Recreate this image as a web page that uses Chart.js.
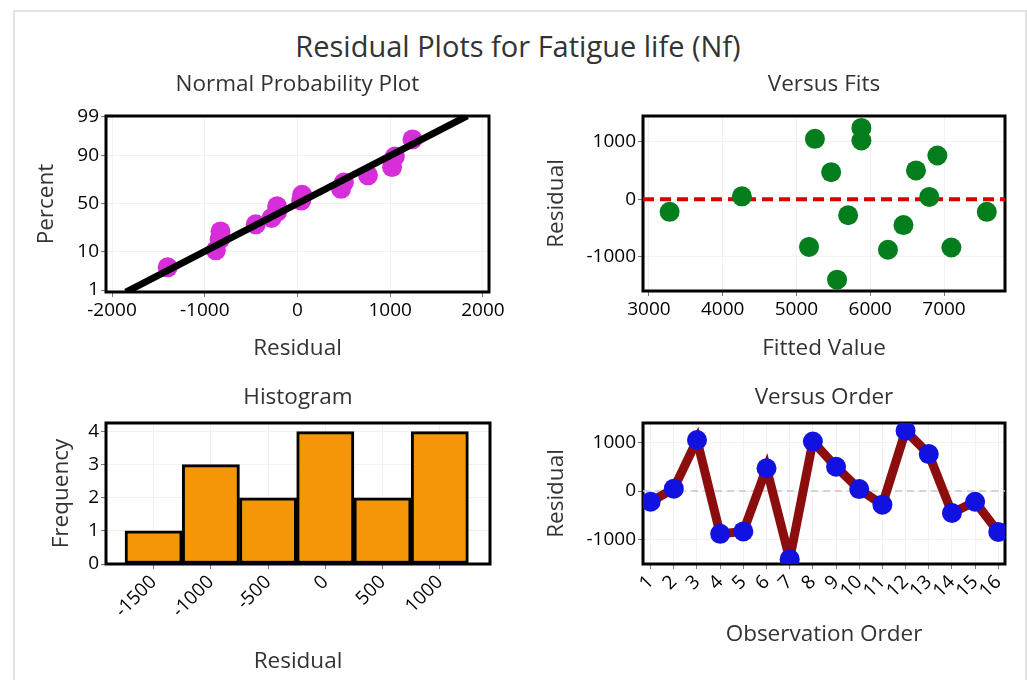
<!DOCTYPE html>
<html>
<head>
<meta charset="utf-8">
<script src="https://cdn.jsdelivr.net/npm/chart.js@4.4.1/dist/chart.umd.min.js"></script>
<style>
  body { margin: 0; background: #fff; width: 1027px; height: 680px; overflow: hidden; position: relative; font-family: "Open Sans", sans-serif; }
  #frame { position: absolute; left: 13px; top: 10px; width: 1010px; height: 700px; border: 2px solid #e3e3e3; border-bottom: none; }
  h1 { position: absolute; left: 0; width: 1036px; top: 26px; margin: 0; text-align: center; font-weight: 400; font-size: 29px; line-height: 40px; color: #333; }
  canvas { position: absolute; }
</style>
</head>
<body>
<div id="frame"></div>
<h1>Residual Plots for Fatigue life (Nf)</h1>
<canvas id="normal"></canvas>
<canvas id="fits"></canvas>
<canvas id="hist"></canvas>
<canvas id="order"></canvas>
<script>
// residuals and fitted values, in observation order
const observations = [1, 2, 3, 4, 5, 6, 7, 8, 9, 10, 11, 12, 13, 14, 15, 16];
const residuals = [-220, 50, 1050, -880, -830, 470, -1400, 1020, 500, 40, -280, 1240, 760, -450, -220, -840];
const fitted = [3280, 4260, 5250, 6240, 5170, 5470, 5550, 5880, 6620, 6800, 5700, 5880, 6910, 6450, 7580, 7100];

// normal probability plot: plotting positions for the sorted residuals, and the reference line
const probPercent = [4.3, 10.4, 16.5, 22.6, 28.7, 34.8, 40.9, 47.0, 53.0, 59.1, 65.2, 71.3, 77.4, 83.5, 89.6, 95.7];
const lineResidual = [-1850, 1830];
const linePercent = [0.87, 99.05];

// histogram bins
const binCenters = [-1500, -1000, -500, 0, 500, 1000];
const binCounts = [1, 3, 2, 4, 2, 4];

// tick labels
const probResidualTicks = [-2000, -1000, 0, 1000, 2000];
const percentTicks = [1, 10, 50, 90, 99];
const fitTicks = [3000, 4000, 5000, 6000, 7000];
const residualTicks = [-1000, 0, 1000];
const freqTicks = [0, 1, 2, 3, 4];

Chart.defaults.font.family = '"Open Sans", sans-serif';
Chart.defaults.color = '#000';

// inverse normal CDF (Acklam)
function probit(p) {
  const a = [-39.69683028665376, 220.9460984245205, -275.9285104469687, 138.3577518672690, -30.66479806614716, 2.506628277459239];
  const b = [-54.47609879822406, 161.5858368580409, -155.6989798598866, 66.80131188771972, -13.28068155288572];
  const c = [-0.007784894002430293, -0.3223964580411365, -2.400758277161838, -2.549732539343734, 4.374664141464968, 2.938163982698783];
  const d = [0.007784695709041462, 0.3224671290700398, 2.445134137142996, 3.754408661907416];
  const lo = 0.02425;
  if (p < lo) {
    const q = Math.sqrt(-2 * Math.log(p));
    return (((((c[0]*q+c[1])*q+c[2])*q+c[3])*q+c[4])*q+c[5]) / ((((d[0]*q+d[1])*q+d[2])*q+d[3])*q+1);
  }
  if (p > 1 - lo) {
    const q = Math.sqrt(-2 * Math.log(1 - p));
    return -(((((c[0]*q+c[1])*q+c[2])*q+c[3])*q+c[4])*q+c[5]) / ((((d[0]*q+d[1])*q+d[2])*q+d[3])*q+1);
  }
  const q = p - 0.5, r = q * q;
  return (((((a[0]*r+a[1])*r+a[2])*r+a[3])*r+a[4])*r+a[5])*q / (((((b[0]*r+b[1])*r+b[2])*r+b[3])*r+b[4])*r+1);
}

function normCdf(z) {
  const t = 1 / (1 + 0.3275911 * Math.abs(z));
  const y = 1 - (((((1.061405429*t - 1.453152027)*t) + 1.421413741)*t - 0.284496736)*t + 0.254829592)*t*Math.exp(-z*z/2);
  return z >= 0 ? (1 + y) / 2 : (1 - y) / 2;
}

// percent axis spaced on the normal quantile
class ProbabilityScale extends Chart.LinearScale {
  getPixelForValue(value) {
    const lo = probit(this.min / 100), hi = probit(this.max / 100);
    return this.getPixelForDecimal((probit(value / 100) - lo) / (hi - lo));
  }
  getValueForPixel(pixel) {
    const lo = probit(this.min / 100), hi = probit(this.max / 100);
    return 100 * normCdf(lo + this.getDecimalForPixel(pixel) * (hi - lo));
  }
}
ProbabilityScale.id = 'probability';
ProbabilityScale.defaults = {};
Chart.register(ProbabilityScale);

// black box around the plot area plus the panel heading
const panelPlugin = {
  id: 'panel',
  beforeDatasetsDraw(chart) {
    const { ctx, chartArea: a } = chart;
    ctx.save();
    ctx.strokeStyle = '#000';
    ctx.lineWidth = 3;
    ctx.strokeRect(a.left, a.top, a.width, a.height);
    ctx.restore();
  },
  afterDraw(chart, args, opts) {
    const { ctx, chartArea: a } = chart;
    ctx.save();
    ctx.fillStyle = '#333';
    ctx.font = '22.5px "Open Sans", sans-serif';
    ctx.textAlign = 'center';
    ctx.textBaseline = 'middle';
    ctx.fillText(opts.text, (a.left + a.right) / 2, opts.y);
    ctx.restore();
  }
};

const tickFont = { size: 19 };
const titleFont = { size: 22.5 };

function axis(values, extra) {
  return Object.assign({
    border: { display: false },
    grid: { color: '#f1f1f1', tickColor: '#777', tickLength: 5 },
    afterBuildTicks: s => { s.ticks = values.map(v => ({ value: v })); },
    ticks: { font: tickFont, padding: 2, callback: v => v }
  }, extra);
}

function rotatedTicks() {
  return { font: tickFont, padding: 2, minRotation: 45, maxRotation: 45, autoSkip: false, callback: v => v };
}

function xTitle(text) {
  return { display: true, text, color: '#333', font: titleFont, padding: { top: 0, bottom: 4 } };
}
function yTitle(text) {
  return { display: true, text, color: '#333', font: titleFont, padding: { top: 0, bottom: 6 } };
}

// canvas box and plot area in page pixels
function panel(id, box, area, heading, headingY, type, datasets, scales) {
  const el = document.getElementById(id);
  el.width = box.w; el.height = box.h;
  el.style.left = box.l + 'px'; el.style.top = box.t + 'px';
  const yW = area.l - box.l;
  const xH = box.t + box.h - area.b;
  scales.x.afterFit = s => { s.height = xH; };
  scales.y.afterFit = s => { s.width = yW; };
  return new Chart(el, {
    type,
    data: { datasets },
    options: {
      responsive: false,
      animation: false,
      devicePixelRatio: 1,
      layout: { padding: { left: 0, top: area.t - box.t, right: box.l + box.w - area.r, bottom: 0 } },
      plugins: { legend: { display: false }, tooltip: { enabled: false }, panel: { text: heading, y: headingY - box.t } },
      scales
    },
    plugins: [panelPlugin]
  });
}

const sortedResiduals = residuals.slice().sort((a, b) => a - b);

panel('normal', { l: 33, t: 60, w: 486, h: 306 }, { l: 106, t: 116, r: 489, b: 292 },
  'Normal Probability Plot', 85, 'scatter',
  [
    {
      type: 'line',
      data: lineResidual.map((x, i) => ({ x, y: linePercent[i] })),
      borderColor: '#000', borderWidth: 7, pointRadius: 0
    },
    {
      data: sortedResiduals.map((x, i) => ({ x, y: probPercent[i] })),
      backgroundColor: '#d62fd9', borderWidth: 0, pointRadius: 10
    }
  ],
  {
    x: axis(probResidualTicks, { type: 'linear', min: -2065, max: 2065, title: xTitle('Residual') }),
    y: axis(percentTicks, { type: 'probability', min: 0.87, max: 99.05, title: yTitle('Percent') })
  });

panel('fits', { l: 543, t: 60, w: 477, h: 306 }, { l: 643, t: 116, r: 1005, b: 291 },
  'Versus Fits', 85, 'scatter',
  [
    {
      data: fitted.map((x, i) => ({ x, y: residuals[i] })),
      backgroundColor: '#047d1c', borderWidth: 0, pointRadius: 10
    },
    {
      type: 'line',
      data: [{ x: 2919, y: 0 }, { x: 7827, y: 0 }],
      borderColor: '#d80000', borderWidth: 4, borderDash: [11, 6], pointRadius: 0
    }
  ],
  {
    x: axis(fitTicks, { type: 'linear', min: 2919, max: 7827, title: xTitle('Fitted Value') }),
    y: axis(residualTicks, { type: 'linear', min: -1597, max: 1447, title: yTitle('Residual') })
  });

panel('hist', { l: 48, t: 375, w: 471, h: 304 }, { l: 106, t: 423, r: 490, b: 564 },
  'Histogram', 398, 'bar',
  [
    {
      data: binCenters.map((x, i) => ({ x, y: binCounts[i] })),
      backgroundColor: '#f39708', borderColor: '#000', borderWidth: 3,
      borderSkipped: false, barPercentage: 1, categoryPercentage: 1
    }
  ],
  {
    x: axis(binCenters, {
      type: 'linear', offset: false, min: -1916, max: 1439, title: xTitle('Residual'),
      grid: { color: '#f1f1f1', tickColor: '#777', tickLength: 5, offset: false },
      ticks: rotatedTicks()
    }),
    y: axis(freqTicks, { type: 'linear', min: 0, max: 4.26, title: yTitle('Frequency') })
  });

panel('order', { l: 543, t: 375, w: 482, h: 277 }, { l: 643, t: 423, r: 1005, b: 564 },
  'Versus Order', 398, 'line',
  [
    {
      data: observations.map((x, i) => ({ x, y: residuals[i] })),
      borderColor: '#8c0d0d', borderWidth: 9, borderJoinStyle: 'miter',
      pointBackgroundColor: '#1212e0', pointBorderWidth: 0, pointRadius: 10
    },
    {
      data: [{ x: 0.67, y: 0 }, { x: 16.29, y: 0 }],
      borderColor: '#c8c8c8', borderWidth: 1.5, borderDash: [7, 5], pointRadius: 0, order: 1
    }
  ],
  {
    x: axis(observations, {
      type: 'linear', min: 0.67, max: 16.29, title: xTitle('Observation Order'),
      ticks: rotatedTicks()
    }),
    y: axis(residualTicks, { type: 'linear', min: -1500, max: 1400, title: yTitle('Residual') })
  });
</script>
</body>
</html>
